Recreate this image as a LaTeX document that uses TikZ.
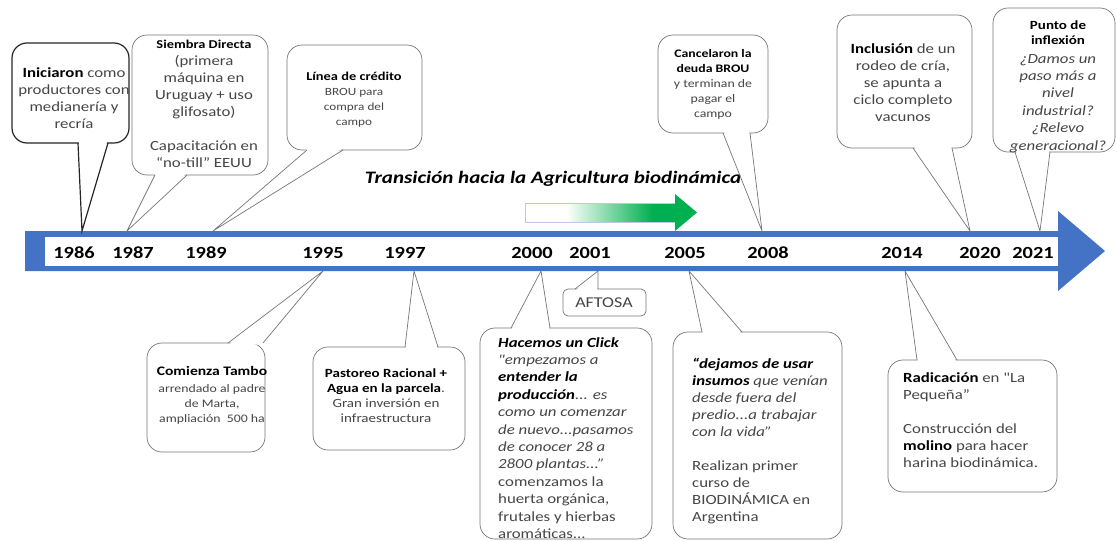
\documentclass[tikz,border=0pt]{standalone}
\usepackage{fontspec}
\setmainfont{Carlito}[FakeStretch=1.2, Ligatures=TeXOff]
\usepackage{tikz}

\definecolor{barblue}{RGB}{68,114,196}
\definecolor{arrowgreen}{RGB}{0,176,80}
\definecolor{boxgray}{RGB}{118,118,118}
\definecolor{txtgray}{RGB}{70,70,70}
\definecolor{edgeblue}{RGB}{185,200,228}

\pgfdeclarehorizontalshading{greenfade}{100bp}{color(0bp)=(white); color(37bp)=(white); color(62bp)=(arrowgreen); color(100bp)=(arrowgreen)}

\newcommand{\negrita}[1]{{\bfseries\color{black}#1}}
\newcommand{\negit}[1]{{\bfseries\itshape\color{black}#1}}

% bubble above the bar, tail from its bottom edge
\newcommand{\calldown}[8][]{%
	\draw[bubble,#1] (#2,#3) rectangle (#4,#5);
	\fill[white] (#6+0.8,#5-1.5) -- (#8) -- (#7-0.8,#5-1.5) -- cycle;
	\draw[tail,#1,sharp corners] (#6,#5) -- (#8) -- (#7,#5);
}
% bubble below the bar, tail from its top edge
\newcommand{\callup}[8][]{%
	\draw[bubble,#1] (#2,#3) rectangle (#4,#5);
	\fill[white] (#6+0.8,#3+1.5) -- (#8) -- (#7-0.8,#3+1.5) -- cycle;
	\draw[tail,#1,sharp corners] (#6,#3) -- (#8) -- (#7,#3);
}

\tikzset{
	bubble/.style={draw=boxgray, fill=white, line width=0.7pt, rounded corners=15pt},
	tail/.style={draw=boxgray, line width=0.7pt},
	txt/.style={inner sep=0pt, align=center, text=txtgray, font=\fontsize{14}{17}\selectfont, execute at begin node=\strut},
	small/.style={txt, font=\fontsize{11.5}{15}\selectfont},
	year/.style={inner sep=0pt, anchor=base, font=\bfseries\fontsize{17}{20}\selectfont, text=black},
}

\begin{document}
\begin{tikzpicture}[x=1pt,y=-1pt]
	\useasboundingbox (0,0) rectangle (1117,541);

	% timeline
	\fill[barblue] (25,231) -- (1058,231) -- (1058,211) -- (1105,251) -- (1058,291) -- (1058,271) -- (25,271) -- cycle;
	\fill[white] (45,237) rectangle (1058,266);

	\coordinate (p1986) at (82,231);
	\coordinate (p1987) at (127,231);
	\coordinate (p1989) at (213,231);
	\coordinate (p2008) at (762,231);
	\coordinate (p2020) at (970,231);
	\coordinate (p2021) at (1040,231);
	\coordinate (p1995) at (323,271);
	\coordinate (p1997) at (414,271);
	\coordinate (p2000) at (541,271);
	\coordinate (p2001) at (598,271);
	\coordinate (p2005) at (689,271);
	\coordinate (p2014) at (905,271);

	\foreach \yr/\x in {1986/74, 1987/133, 1989/206, 1995/323, 1997/405, 2000/532, 2001/590, 2005/685, 2008/768, 2014/902, 2020/980, 2021/1033}
		\node[year] (y\yr) at (\x,258) {\yr};

	% transition arrow
	\shade[shading=greenfade] (525,203) -- (675,203) -- (675,194) -- (697,212.5) -- (675,231) -- (675,222) -- (525,222) -- cycle;
	\draw[edgeblue, line width=0.8pt] (675,203) -- (525,203) -- (525,222) -- (675,222);
	\node[inner sep=0pt, anchor=base, font=\bfseries\itshape\fontsize{17.5}{20}\selectfont] (titulo) at (553,183) {Transición hacia la Agricultura biodinámica};

	% upper bubbles
	\calldown[draw=black!85, line width=1.2pt]{12}{43}{129}{143}{78}{108}{p1986}
	\calldown{132}{35}{268}{175}{155}{187}{p1987}
	\calldown{287}{45}{422}{150}{307}{343}{p1989}
	\calldown{658}{35}{768}{133}{723}{750}{p2008}
	\calldown{837}{15}{972}{148}{913}{952}{p2020}
	\calldown{993}{8}{1115}{152}{1015}{1050}{p2021}

	% lower bubbles
	\callup[rounded corners=5pt]{563}{289}{646}{316}{575}{598}{p2001}
	\callup{147}{343}{265}{452}{228}{263}{p1995}
	\callup{313}{347}{465}{450}{405}{438}{p1997}
	\callup{480}{328}{652}{539}{511}{550}{p2000}
	\callup{673}{332}{842}{539}{702}{742}{p2005}
	\callup{888}{360}{1057}{492}{917}{957}{p2014}

	\node[txt, anchor=north] (iniciaron) at (74,67) {\negrita{Iniciaron} como\\productores con\\medianería y\\recría};
	\node[txt, anchor=north] (siembra) at (204,40) {{\fontsize{12}{15}\selectfont\negrita{Siembra Directa}}\\(primera\\máquina en\\Uruguay + uso\\glifosato)\\[17pt]Capacitación en\\“no-till” EEUU};
	\node[small, font=\fontsize{11}{15}\selectfont, anchor=north] (linea) at (354,72) {{\fontsize{12}{15}\selectfont\negrita{Línea de crédito}}\\BROU para\\compra del\\campo};
	\node[small, anchor=north] (cancelaron) at (713,49) {\negrita{Cancelaron la}\\\negrita{deuda BROU}\\y terminan de\\pagar el\\campo};
	\node[txt, anchor=north] (inclusion) at (903,43) {\negrita{Inclusión} de un\\rodeo de cría,\\se apunta a\\ciclo completo\\vacunos};
	\node[small, font=\bfseries\fontsize{12.5}{15}\selectfont, text=black, anchor=north] (punto-t) at (1058,21) {Punto de\\inflexión};
	\node[txt, font=\itshape\fontsize{14}{17.4}\selectfont, anchor=north] (punto) at (1058,54) {¿Damos un\\paso más a\\nivel\\industrial?\\¿Relevo\\generacional?};

	\node[inner sep=0pt, font=\fontsize{15}{18}\selectfont, text=txtgray] (aftosa) at (604,302.5) {AFTOSA};
	\node[small, anchor=north] (comienza) at (212,366) {{\fontsize{13}{15}\selectfont\negrita{Comienza Tambo}}\\[2pt]arrendado al padre\\de Marta,\\ampliación\ \ 500 ha};
	\node[small, font=\fontsize{12.5}{15}\selectfont, anchor=north] (pastoreo) at (386,369) {\negrita{Pastoreo Racional +}\\\negrita{Agua en la parcela}.\\Gran inversión en\\infraestructura};
	\node[txt, align=left, anchor=north west, font=\fontsize{14}{17.4}\selectfont] (click) at (498,337) {\negit{Hacemos un Click}\\\textit{"empezamos a}\\\negit{entender la}\\\negit{producción}\textit{... es}\\\textit{como un comenzar}\\\textit{de nuevo...pasamos}\\\textit{de conocer 28 a}\\\textit{2800 plantas...”}\\comenzamos la\\huerta orgánica,\\frutales y hierbas\\aromáticas...};
	\node[txt, align=left, anchor=north west] (dejamos) at (692,358) {\negit{“dejamos de usar}\\\negit{insumos} \textit{que venían}\\\textit{desde fuera del}\\\textit{predio...a trabajar}\\\textit{con la vida”}\\[17pt]Realizan primer\\curso de\\BIODINÁMICA en\\Argentina};
	\node[txt, align=left, anchor=north west] (radicacion) at (903,372) {\negrita{Radicación} en "La\\Pequeña”\\[17pt]Construcción del\\\negrita{molino} para hacer\\harina biodinámica.};
\end{tikzpicture}
\end{document}
